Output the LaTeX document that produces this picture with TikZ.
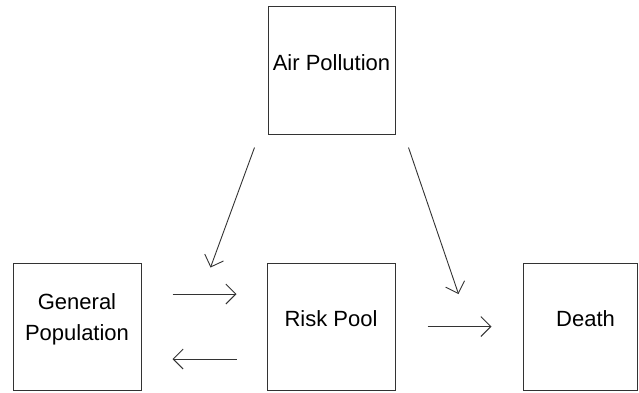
\documentclass[tikz,border=0pt]{standalone}
\usepackage{fontspec}
\setmainfont{Liberation Sans}
\usetikzlibrary{arrows.meta}
\begin{document}
\begin{tikzpicture}[
	x=1pt, y=-1pt,
	b/.style = {rectangle, draw=black!80, line width=1pt, minimum width=128pt, minimum height=127pt, inner sep=0pt, font=\fontsize{22}{31}\selectfont, text height=16pt, text depth=16pt},
	r/.style = {-{Straight Barb[length=10pt, width=20pt]}, draw=black!80, line width=0.9pt}
	]
	\useasboundingbox (0,0) rectangle (639,392);
	
	%Nodes
	\node[b, minimum width=127pt, minimum height=128pt]	(air)	at	(331.5, 70)	{Air Pollution};
	\node[b, align=center, text height=32pt, text depth=5pt]	(gen)	at	(77, 326.5)	{General\\Population};
	\node[b]	(risk)	at	(331, 326.5)	{Risk Pool};
	\node[b, minimum width=114pt]	(death)	at	(580, 326.5)	{\hspace*{11pt}Death};
	
	%Free ends
	\coordinate	(air-l)		at	([shift={(-13,13)}]air.south west);
	\coordinate	(risk-l)	at	([shift={(-56,5)}]risk.north west);
	\coordinate	(air-r)		at	([shift={(13,13)}]air.south east);
	\coordinate	(death-l)	at	([shift={(-64,-32.5)}]death.west);
	
	%Lines
	\draw[r]	(air-l)	--	(risk-l);
	\draw[r]	(air-r)	--	(death-l);
	\draw[r, shorten <=31pt, shorten >=30pt]	([yshift=32.5pt]gen.east)	--	([yshift=32.5pt]risk.west);
	\draw[r, shorten <=30pt, shorten >=31pt]	([yshift=-32.5pt]risk.west)	--	([yshift=-32.5pt]gen.east);
	\draw[r, shorten <=32pt, shorten >=31pt]	(risk.east)	--	(death.west);
	
\end{tikzpicture}
\end{document}
